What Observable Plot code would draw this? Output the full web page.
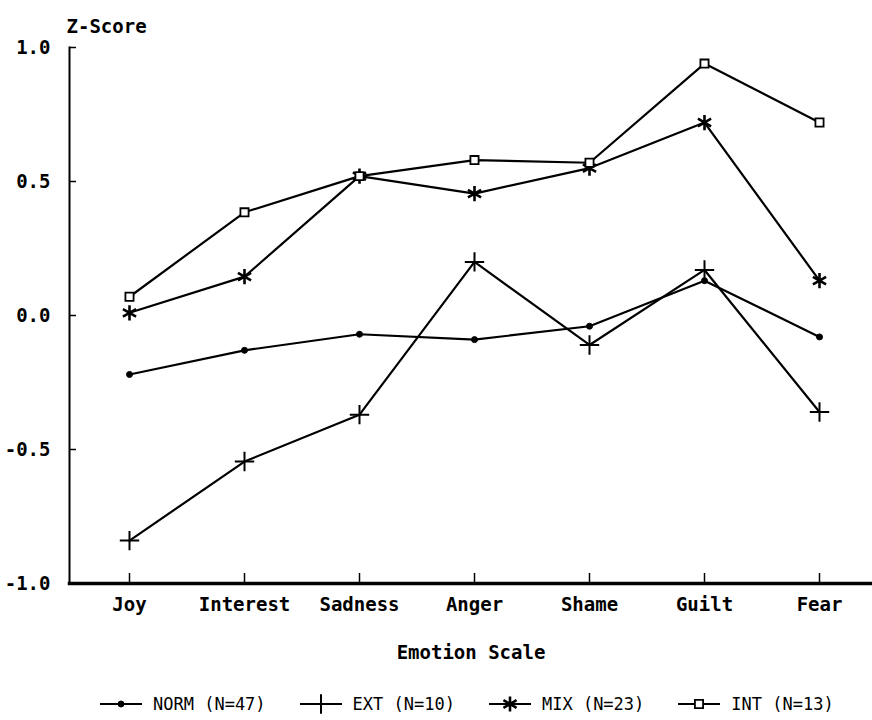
<!DOCTYPE html>
<html>
<head>
<meta charset="utf-8">
<script src="https://cdn.jsdelivr.net/npm/d3@7"></script>
<script src="https://cdn.jsdelivr.net/npm/@observablehq/plot@0.6"></script>
<style>
  body { margin: 0; background: #fff; width: 872px; height: 720px; overflow: hidden; }
  #chart svg { display: block; }
  #legend { display: flex; align-items: center; height: 32px; padding-left: 100px;
            font-family: "DejaVu Sans Mono", monospace; font-size: 17px; color: #000; }
  #legend .item { display: flex; align-items: center; margin-right: 34px; }
  #legend svg { margin-right: 11px; }
</style>
</head>
<body>
<div id="chart"></div>
<div id="legend"></div>
<script>
// ---- data ----
const emotions = ["Joy", "Interest", "Sadness", "Anger", "Shame", "Guilt", "Fear"];
const groups = ["NORM (N=47)", "EXT (N=10)", "MIX (N=23)", "INT (N=13)"];
const normValues = [-0.22, -0.13, -0.07, -0.09, -0.04, 0.13, -0.08];
const extValues  = [-0.84, -0.545, -0.37, 0.20, -0.11, 0.17, -0.36];
const mixValues  = [0.01, 0.145, 0.52, 0.455, 0.55, 0.72, 0.13];
const intValues  = [0.07, 0.385, 0.52, 0.58, 0.57, 0.94, 0.72];
const yTicks = [-1.0, -0.5, 0.0, 0.5, 1.0];
const yTitle = "Z-Score";
const xTitle = "Emotion Scale";

const seriesValues = [normValues, extValues, mixValues, intValues];
const rows = [];
groups.forEach((g, i) => emotions.forEach((e, j) => rows.push({group: g, emotion: e, z: seriesValues[i][j]})));
const byGroup = g => rows.filter(d => d.group === g);

const font = "DejaVu Sans Mono";
const symbolStyle = [
  {symbol: "circle", r: 3, fill: "black", stroke: "black", strokeWidth: 1},
  {symbol: "plus", r: 6.3, fill: "none", stroke: "black", strokeWidth: 2},
  {symbol: "asterisk", r: 7.2, fill: "none", stroke: "black", strokeWidth: 2.6},
  {symbol: "square", r: 4.6, fill: "white", stroke: "black", strokeWidth: 1.8}
];

const chart = Plot.plot({
  width: 872,
  height: 688,
  marginLeft: 69,
  marginRight: 0,
  marginTop: 47,
  marginBottom: 105,
  style: {fontFamily: font, color: "black", background: "white"},
  x: {type: "point", domain: emotions, range: [69, 878], padding: 0.5},
  y: {domain: [-1, 1], range: [583, 47]},
  marks: [
    Plot.lineY(rows, {x: "emotion", y: "z", z: "group", stroke: "black", strokeWidth: 2.2}),
    ...groups.map((g, i) => Plot.dot(byGroup(g), {x: "emotion", y: "z", ...symbolStyle[i]})),
    Plot.axisY({ticks: yTicks, tickSize: -7, tickFormat: () => "", label: null, strokeWidth: 1.5}),
    Plot.axisY({ticks: yTicks, tickSize: 0, tickPadding: 19, tickFormat: d => d.toFixed(1),
                fontSize: 19, fontWeight: "bold", label: null}),
    Plot.axisX({tickSize: -10, tickFormat: () => "", label: null, strokeWidth: 1.5}),
    Plot.axisX({tickSize: 0, tickPadding: 14, fontSize: 19, fontWeight: "bold", label: null}),
    Plot.frame({anchor: "left", strokeWidth: 2}),
    Plot.frame({anchor: "bottom", strokeWidth: 3.5}),
    Plot.text([yTitle], {frameAnchor: "top-left", textAnchor: "start", dx: -3, dy: -28,
                         fontSize: 19, fontWeight: "bold"}),
    Plot.text([xTitle], {frameAnchor: "bottom", dy: 75, fontSize: 19, fontWeight: "bold"})
  ]
});
document.getElementById("chart").append(chart);

// ---- legend ----
const legend = d3.select("#legend");
const symbolGen = {circle: d3.symbolCircle, plus: d3.symbolPlus, asterisk: d3.symbolAsterisk, square: d3.symbolSquare};
groups.forEach((g, i) => {
  const s = symbolStyle[i];
  const item = legend.append("div").attr("class", "item");
  const sw = item.append("svg").attr("width", 42).attr("height", 20);
  sw.append("line").attr("x1", 0).attr("x2", 42).attr("y1", 10).attr("y2", 10)
    .attr("stroke", "black").attr("stroke-width", 2);
  sw.append("path").attr("transform", "translate(21,10)")
    .attr("d", d3.symbol(symbolGen[s.symbol], Math.PI * s.r * s.r)())
    .attr("fill", s.fill).attr("stroke", s.stroke).attr("stroke-width", s.strokeWidth);
  item.append("span").text(g);
});
</script>
</body>
</html>
